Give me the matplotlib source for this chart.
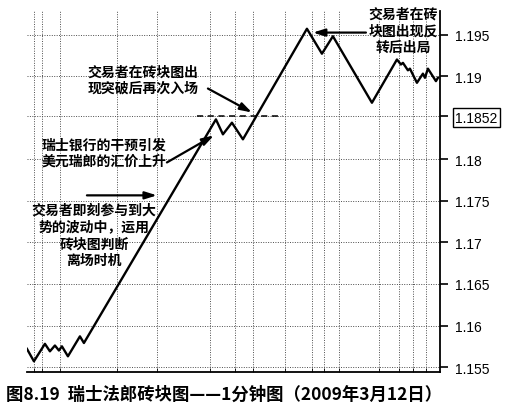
import matplotlib.pyplot as plt
from matplotlib import font_manager

plt.rcParams['font.family'] = ['Noto Sans CJK SC', 'DejaVu Sans']

# renko line (minutes from start, price)
minutes = [0, 7, 18, 23, 28, 32, 35, 41, 53, 57, 189, 196, 205, 216, 280,
           295, 306, 345, 370, 374, 376, 381, 383, 390, 396, 398, 401, 409, 411]
prices = [1.1572, 1.1557, 1.1578, 1.1569, 1.1576, 1.1570, 1.1575, 1.1563,
          1.1587, 1.1579, 1.1848, 1.1830, 1.1844, 1.1824, 1.1957, 1.1927,
          1.1948, 1.1868, 1.1920, 1.1914, 1.1916, 1.1907, 1.1909, 1.1892,
          1.1903, 1.1898, 1.1909, 1.1894, 1.1898]

price_ticks = [1.155, 1.16, 1.165, 1.17, 1.175, 1.18, 1.19, 1.195]
tick_labels = ['1.155', '1.16', '1.165', '1.17', '1.175', '1.18', '1.19',
               '1.195']
breakout = 1.1852
time_grid = [7, 15, 33, 90, 130, 183, 208, 226, 258, 285, 297, 312, 352,
             372, 386, 399]

caption = '图8.19  瑞士法郎砖块图——1分钟图（2009年3月12日）'

names = {f.name for f in font_manager.fontManager.ttflist}
num_font = 'Liberation Sans Narrow' if 'Liberation Sans Narrow' in names \
    else 'Liberation Sans'

fig = plt.figure(figsize=(5.08, 4.10), dpi=100)
ax = fig.add_axes([0.053, 0.090, 0.813, 0.880])

for x in time_grid:
    ax.axvline(x, color='0.3', lw=0.7, ls=(0, (1, 1.5)), zorder=1)
for y in price_ticks + [breakout]:
    ax.axhline(y, color='0.3', lw=0.7, ls=(0, (1, 1.5)), zorder=1)

ax.plot([170, 256], [breakout, breakout], color='black', lw=1.1,
        ls=(0, (4, 3)), zorder=2)
ax.plot(minutes, prices, color='black', lw=1.7, zorder=3)

ax.set_xlim(0, 413)
ax.set_ylim(1.1544, 1.1978)

ax.spines['left'].set_visible(False)
ax.spines['top'].set_visible(False)
ax.spines['right'].set_linewidth(1.3)
ax.spines['bottom'].set_linewidth(1.3)

ax.yaxis.tick_right()
ax.set_yticks(price_ticks + [breakout])
ax.set_yticklabels(tick_labels + ['1.1852'], family=[num_font, 'DejaVu Sans'],
                   fontsize=10.5 if num_font.endswith('Narrow') else 10)
ax.tick_params(axis='y', direction='out', length=6, width=1.2, pad=5)
ax.get_yticklabels()[-1].set_bbox(dict(boxstyle='square,pad=0.15',
                                       fc='white', ec='black', lw=1.0))
ax.set_xticks(time_grid)
ax.set_xticklabels([])
ax.tick_params(axis='x', direction='in', length=3, width=0.6)

tkw = dict(fontsize=10, ha='center', va='center', linespacing=1.25,
           fontweight='bold')
akw = dict(arrowstyle='-|>,head_length=0.7,head_width=0.22', color='black',
           lw=1.6, shrinkA=0, shrinkB=0)

ax.text(116, 1.1896, '交易者在砖块图出\n现突破后再次入场', **tkw)
ax.annotate('', xy=(225, 1.18563), xytext=(181, 1.18851), arrowprops=akw)

ax.text(77, 1.1808, '瑞士银行的干预引发\n美元瑞郎的汇价上升', **tkw)
ax.annotate('', xy=(187, 1.18287), xytext=(140, 1.17962), arrowprops=akw)

ax.text(67, 1.1709, '交易者即刻参与到大\n势的波动中，运用\n砖块图判断\n离场时机',
        **tkw)
ax.annotate('', xy=(130, 1.17566), xytext=(60, 1.17566), arrowprops=akw)

ax.text(376, 1.1955, '交易者在砖\n块图出现反\n转后出局', clip_on=False, **tkw)
ax.annotate('', xy=(286, 1.19524), xytext=(339, 1.19524), arrowprops=akw)

fig.text(0.012, 0.036, caption, fontsize=12.5, ha='left', va='center',
         fontweight='bold')

fig.savefig('out.png', dpi=100)
